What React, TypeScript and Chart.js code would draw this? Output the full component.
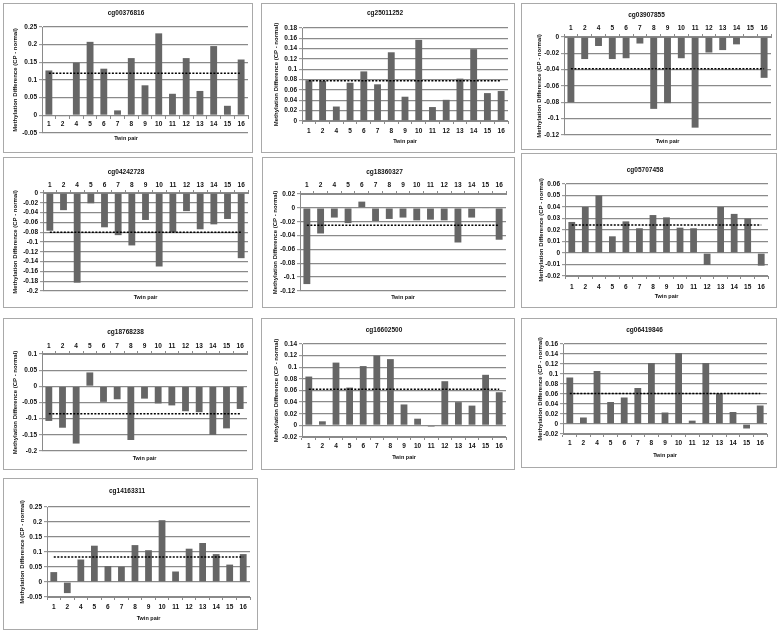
import React, { useEffect, useRef } from 'react';
import { Chart, registerables } from 'chart.js';

Chart.register(...registerables);

// ---------- DATA ----------
const CATEGORIES = ['1', '2', '4', '5', '6', '7', '8', '9', '10', '11', '12', '13', '14', '15', '16'];

const CG00376816 = [0.127, -0.002, 0.149, 0.208, 0.132, 0.014, 0.162, 0.085, 0.232, 0.061, 0.162, 0.069, 0.196, 0.027, 0.158];
const CG25011252 = [0.079, 0.078, 0.028, 0.074, 0.096, 0.071, 0.133, 0.047, 0.157, 0.027, 0.041, 0.082, 0.139, 0.054, 0.058];
const CG03907855 = [-0.080, -0.027, -0.011, -0.027, -0.026, -0.008, -0.088, -0.081, -0.026, -0.111, -0.019, -0.016, -0.009, -0.001, -0.050];
const CG04242728 = [-0.077, -0.035, -0.183, -0.021, -0.070, -0.086, -0.107, -0.055, -0.150, -0.080, -0.037, -0.074, -0.064, -0.053, -0.133];
const CG18360327 = [-0.110, -0.037, -0.014, -0.022, 0.009, -0.019, -0.016, -0.014, -0.018, -0.017, -0.018, -0.050, -0.014, -0.001, -0.046];
const CG05707458 = [0.027, 0.040, 0.050, 0.0145, 0.0275, 0.0215, 0.033, 0.031, 0.022, 0.0215, -0.0104, 0.040, 0.034, 0.030, -0.011];
const CG18768238 = [-0.107, -0.128, -0.177, 0.043, -0.048, -0.040, -0.166, -0.038, -0.053, -0.059, -0.077, -0.080, -0.150, -0.130, -0.070];
const CG16602500 = [0.084, 0.007, 0.108, 0.065, 0.102, 0.120, 0.114, 0.036, 0.0115, -0.002, 0.076, 0.040, 0.034, 0.087, 0.057];
const CG06419846 = [0.093, 0.013, 0.106, 0.044, 0.053, 0.072, 0.122, 0.023, 0.142, 0.0067, 0.122, 0.061, 0.024, -0.009, 0.037];
const CG14163311 = [0.033, -0.037, 0.075, 0.121, 0.053, 0.051, 0.123, 0.106, 0.206, 0.035, 0.111, 0.130, 0.093, 0.058, 0.093];

const MEANS = [0.119, 0.078, -0.039, -0.080, -0.025, 0.0243, -0.085, 0.062, 0.061, 0.083];
const TITLES = ['cg00376816', 'cg25011252', 'cg03907855', 'cg04242728', 'cg18360327', 'cg05707458', 'cg18768238', 'cg16602500', 'cg06419846', 'cg14163311'];
const SERIES = [CG00376816, CG25011252, CG03907855, CG04242728, CG18360327, CG05707458, CG18768238, CG16602500, CG06419846, CG14163311];
// y axis tick range: [min, max, step]
const Y_TICKS: [number, number, number][] = [
  [-0.05, 0.25, 0.05],
  [0, 0.18, 0.02],
  [-0.12, 0, 0.02],
  [-0.2, 0, 0.02],
  [-0.12, 0.02, 0.02],
  [-0.02, 0.06, 0.01],
  [-0.2, 0.1, 0.05],
  [-0.02, 0.14, 0.02],
  [-0.02, 0.16, 0.02],
  [-0.05, 0.25, 0.05],
];
const Y_TITLE = 'Methylation Difference (CP - normal)';
const X_TITLE = 'Twin pair';

// ---------- LAYOUT (page pixels) ----------
type XPos = 'top' | 'bottom' | 'zero';
interface Layout {
  x: number; y: number; w: number; h: number;
  plot: [number, number, number, number];
  titleY: number; labelY: number; twinY: number; yTitleX: number;
  xPos: XPos; subFull?: boolean;
}
const LAYOUTS: Layout[] = [
  { x: 3, y: 3, w: 250, h: 150, plot: [42, 27, 248, 133], titleY: 13, labelY: 124, twinY: 138, yTitleX: 15, xPos: 'zero', subFull: true },
  { x: 261, y: 3, w: 254, h: 150, plot: [302, 28, 508, 121], titleY: 13, labelY: 131, twinY: 141, yTitleX: 276, xPos: 'bottom' },
  { x: 521, y: 3, w: 256, h: 147, plot: [564, 37, 771, 135], titleY: 15, labelY: 28, twinY: 141, yTitleX: 539, xPos: 'top' },
  { x: 3, y: 157, w: 250, h: 151, plot: [43, 193, 248, 291], titleY: 172, labelY: 185, twinY: 297, yTitleX: 15, xPos: 'top' },
  { x: 262, y: 157, w: 253, h: 151, plot: [300, 194, 506, 291], titleY: 172, labelY: 185, twinY: 297, yTitleX: 275, xPos: 'top' },
  { x: 521, y: 153, w: 256, h: 155, plot: [565, 184, 768, 276], titleY: 170, labelY: 287, twinY: 296, yTitleX: 541, xPos: 'bottom' },
  { x: 3, y: 318, w: 250, h: 152, plot: [42, 354, 247, 451], titleY: 332, labelY: 346, twinY: 458, yTitleX: 15, xPos: 'top' },
  { x: 261, y: 318, w: 254, h: 152, plot: [302, 344, 506, 437], titleY: 330, labelY: 446, twinY: 457, yTitleX: 276, xPos: 'bottom' },
  { x: 521, y: 318, w: 256, h: 150, plot: [563, 344, 767, 434], titleY: 330, labelY: 443, twinY: 455, yTitleX: 540, xPos: 'bottom' },
  { x: 3, y: 478, w: 255, h: 152, plot: [47, 507, 250, 597], titleY: 491, labelY: 607, twinY: 618, yTitleX: 22, xPos: 'bottom' },
];

const FONT = "'Liberation Sans', Arial, sans-serif";
const TFS = 6.5; // title font
const SFS = 5.5; // x title font
const XFS = 6.5; // tick font
const YTFS = 6; // y title font
const TL = 3; // tick length
const GRID = '#8a8a8a';
const BAR = '#666666';
const TXT = '#111111';

function fmt(v: number) {
  const r = Math.round(v * 10000) / 10000;
  return String(r === 0 ? 0 : r);
}

function Panel({ idx }: { idx: number }) {
  const ref = useRef<HTMLCanvasElement>(null);
  const L = LAYOUTS[idx];
  const W = L.w - 2;
  const H = L.h - 2;
  useEffect(() => {
    if (!ref.current) return;
    const ox = L.x + 1;
    const oy = L.y + 1;
    const pl = L.plot[0] - ox;
    const pt = L.plot[1] - oy;
    const pr = L.plot[2] - ox;
    const pb = L.plot[3] - oy;
    const [yMin, yMax, yStep] = Y_TICKS[idx];
    const titleC = L.titleY - oy;
    const labelC = L.labelY - oy;
    const twinC = L.twinY - oy;
    const LH = XFS * 1.2;

    const titlePadTop = titleC - TFS / 2;
    let titlePadBottom: number;
    let xAxisH = 0;
    if (L.xPos === 'top') {
      titlePadBottom = 1;
      xAxisH = pt - (titleC + TFS / 2) - 1;
    } else {
      titlePadBottom = pt - (titleC + TFS / 2);
    }
    const subPadBottom = H - twinC - SFS / 2;
    let subPadTop: number;
    if (L.xPos === 'bottom') {
      subPadTop = 1;
      xAxisH = H - pb - (SFS + 1 + subPadBottom);
    } else {
      subPadTop = H - pb - SFS - subPadBottom;
    }
    let tickPad: number;
    if (L.xPos === 'top') tickPad = pt - labelC - TL - LH / 2;
    else if (L.xPos === 'bottom') tickPad = labelC - pb - TL - LH / 2;
    else {
      const zeroPix = pt + (yMax / (yMax - yMin)) * (pb - pt);
      tickPad = labelC - zeroPix - TL - LH / 2;
    }

    const xPosition: any = L.xPos === 'zero' ? { y: 0 } : L.xPos;

    const chart = new Chart(ref.current, {
      type: 'bar',
      data: {
        labels: CATEGORIES,
        datasets: [
          {
            type: 'line',
            data: CATEGORIES.map(() => MEANS[idx]),
            borderColor: '#000000',
            borderWidth: 1.5,
            borderDash: [2, 1.5],
            pointRadius: 0,
            fill: false,
            order: 0,
          } as any,
          {
            type: 'bar',
            data: SERIES[idx],
            backgroundColor: BAR,
            borderWidth: 0,
            barPercentage: 0.5,
            categoryPercentage: 1,
            order: 1,
          },
        ],
      },
      options: {
        responsive: false,
        animation: false,
        devicePixelRatio: 1,
        layout: { padding: { left: 0, top: 0, right: W - pr, bottom: 0 } },
        plugins: {
          legend: { display: false },
          tooltip: { enabled: false },
          title: {
            display: true,
            text: TITLES[idx],
            color: TXT,
            font: { family: FONT, size: TFS, weight: 'bold', lineHeight: 1 },
            padding: { top: titlePadTop, bottom: titlePadBottom },
          },
          subtitle: {
            display: true,
            text: X_TITLE,
            position: 'bottom',
            fullSize: !!L.subFull,
            color: TXT,
            font: { family: FONT, size: SFS, weight: 'bold', lineHeight: 1 },
            padding: { top: subPadTop, bottom: subPadBottom },
          },
        },
        scales: {
          x: {
            type: 'category',
            position: xPosition,
            offset: true,
            grid: {
              display: true,
              drawOnChartArea: false,
              drawTicks: true,
              tickLength: TL,
              color: GRID,
              offset: true,
            },
            border: { display: true, color: GRID, width: 1 },
            ticks: {
              color: TXT,
              font: { family: FONT, size: XFS, weight: 'bold', lineHeight: 1.2 },
              padding: tickPad,
              maxRotation: 0,
              minRotation: 0,
              autoSkip: false,
            },
            afterFit: (s: any) => {
              if (L.xPos !== 'zero') s.height = xAxisH;
            },
          },
          y: {
            type: 'linear',
            position: 'left',
            min: yMin,
            max: yMax,
            grid: {
              display: true,
              drawOnChartArea: true,
              color: GRID,
              lineWidth: 1.3,
              drawTicks: true,
              tickLength: TL,
              tickWidth: 1,
            },
            border: { display: true, color: GRID, width: 1 },
            ticks: {
              color: TXT,
              font: { family: FONT, size: XFS, weight: 'bold', lineHeight: 1.2 },
              padding: 2,
              autoSkip: false,
              callback: (v: any) => fmt(Number(v)),
            },
            afterBuildTicks: (s: any) => {
              const n = Math.round((yMax - yMin) / yStep);
              const t = [];
              for (let i = 0; i <= n; i++) t.push({ value: Math.round((yMin + i * yStep) * 10000) / 10000 });
              s.ticks = t;
            },
            title: {
              display: true,
              text: Y_TITLE,
              color: TXT,
              font: { family: FONT, size: YTFS, weight: 'bold', lineHeight: 1 },
              padding: { top: L.yTitleX - ox - YTFS / 2, bottom: 0 },
            },
            afterFit: (s: any) => {
              s.width = pl;
            },
          },
        },
      } as any,
    });
    return () => chart.destroy();
  }, [idx]);

  return (
    <div
      style={{
        position: 'absolute',
        left: L.x,
        top: L.y,
        width: L.w,
        height: L.h,
        boxSizing: 'border-box',
        border: '1px solid #a9a9a9',
      }}
    >
      <canvas ref={ref} width={W} height={H} style={{ display: 'block', width: W, height: H }} />
    </div>
  );
}

export default function App() {
  return (
    <div style={{ position: 'absolute', left: 0, top: 0, width: 779, height: 632, background: '#ffffff', overflow: 'hidden' }}>
      {LAYOUTS.map((_, i) => (
        <Panel key={i} idx={i} />
      ))}
    </div>
  );
}
